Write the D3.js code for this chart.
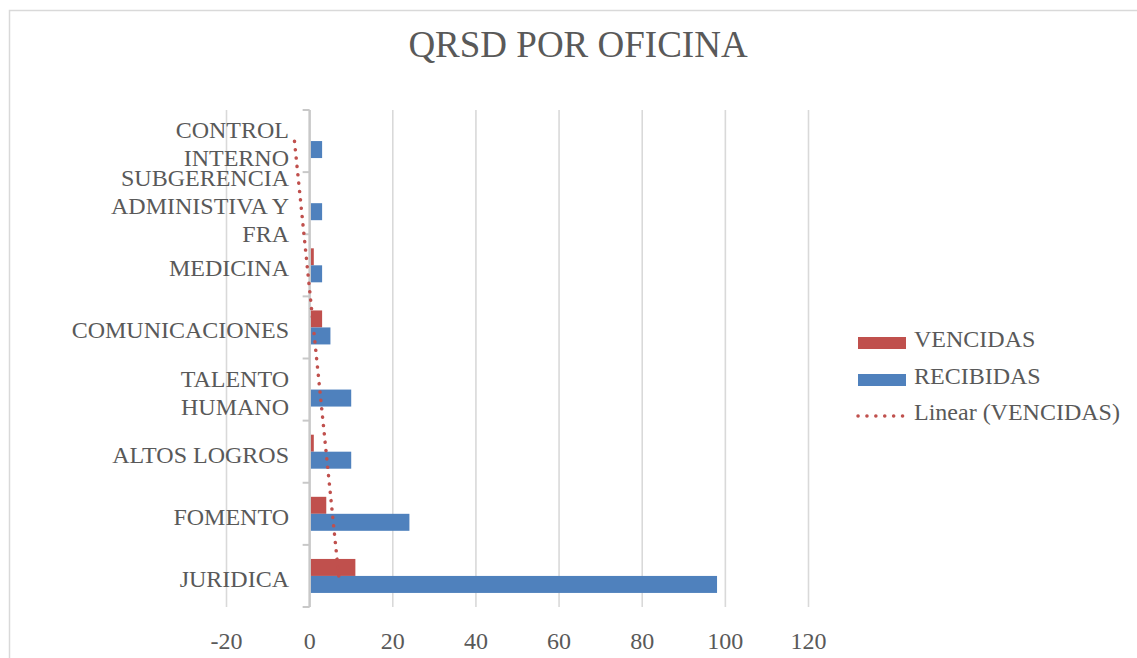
<!DOCTYPE html>
<html>
<head>
<meta charset="utf-8">
<script src="https://cdn.jsdelivr.net/npm/d3@7"></script>
<style>
  html, body { margin: 0; padding: 0; background: #fff; }
  svg { display: block; }
  text { font-family: "Liberation Serif", "Times New Roman", serif; fill: #595959; }
</style>
</head>
<body>
<svg id="chart" width="1137" height="658" font-family="'Liberation Serif', 'Times New Roman', serif"></svg>
<script>
// ---- data (bottom-to-top order as in the source sheet) ----
const categories = ["JURIDICA", "FOMENTO", "ALTOS LOGROS", "TALENTO HUMANO", "COMUNICACIONES", "MEDICINA", "SUBGERENCIA ADMINISTIVA Y FRA", "CONTROL INTERNO"];
const vencidas  = [11, 4, 1, 0, 3, 1, 0, 0];
const recibidas = [98, 24, 10, 10, 5, 3, 3, 3];
// Linear trendline of VENCIDAS at first and last category
const trendVencidas = [7.0, -3.65];
const xTicks = [-20, 0, 20, 40, 60, 80, 100, 120];
const seriesNames = ["VENCIDAS", "RECIBIDAS"];
const trendName = "Linear (VENCIDAS)";
const title = "QRSD POR OFICINA";

const colors = { VENCIDAS: "#C0504D", RECIBIDAS: "#4F81BD" };

(function () {
const svg = d3.select("#chart");
const FONT = 24;

// chart border
svg.append("rect").attr("x", 9.5).attr("y", 10.5).attr("width", 1300).attr("height", 800)
  .attr("fill", "#fff").attr("stroke", "#d9d9d9").attr("stroke-width", 1.5);

// title
svg.append("text").attr("x", 578).attr("y", 57).attr("text-anchor", "middle")
  .style("font-family", "'Liberation Serif', serif")
  .style("font-size", "37px").text(title);

// scales
const x = d3.scaleLinear().domain([-20, 120]).range([226.5, 808.5]);
const plotTop = 110, plotBottom = 607;
const y = d3.scaleBand().domain(categories.slice().reverse()).range([plotTop, plotBottom]).padding(0);
const bw = y.bandwidth();
const barH = 17;
const inner = d3.scaleBand().domain(seriesNames)
  .range([bw / 2 - barH, bw / 2 + barH]).padding(0);

// gridlines
svg.append("g").selectAll("line").data(xTicks.filter(d => d !== 0)).join("line")
  .attr("x1", d => x(d)).attr("x2", d => x(d))
  .attr("y1", plotTop).attr("y2", plotBottom)
  .attr("stroke", "#d9d9d9").attr("stroke-width", 1.6);

// x tick labels
svg.append("g").selectAll("text").data(xTicks).join("text")
  .attr("x", d => x(d)).attr("y", 649).attr("text-anchor", "middle")
  .style("font-size", FONT + "px").text(d => d);

// bars
const rows = categories.map((c, i) => ({ c, VENCIDAS: vencidas[i], RECIBIDAS: recibidas[i] }));
const g = svg.append("g");
seriesNames.forEach(s => {
  g.selectAll("rect." + s).data(rows).join("rect")
    .attr("class", s)
    .attr("x", d => Math.min(x(0), x(d[s])) + 1)
    .attr("width", d => Math.max(0, Math.abs(x(d[s]) - x(0)) - (d[s] > 0 ? 1 : 0)))
    .attr("y", d => y(d.c) + inner(s))
    .attr("height", inner.bandwidth())
    .attr("fill", colors[s]);
});

// y axis line at 0 and ticks
const yAxis = svg.append("g");
yAxis.append("line").attr("x1", x(0)).attr("x2", x(0)).attr("y1", plotTop).attr("y2", plotBottom)
  .attr("stroke", "#c8c8c8").attr("stroke-width", 2.5);
const bounds = d3.range(categories.length + 1).map(i => plotTop + i * bw);
yAxis.selectAll("line.tk").data(bounds).join("line").attr("class", "tk")
  .attr("x1", x(0) - 7).attr("x2", x(0))
  .attr("y1", d => d).attr("y2", d => d)
  .attr("stroke", "#c8c8c8").attr("stroke-width", 2);

// category labels with wrapping
const labelX = 289, maxW = 205, lineH = 28;
categories.forEach(c => {
  const t = svg.append("text").attr("text-anchor", "end").style("font-size", FONT + "px");
  const words = c.split(" ");
  const lines = [];
  let cur = "";
  const probe = svg.append("text").style("font-size", FONT + "px");
  words.forEach(w => {
    const test = cur ? cur + " " + w : w;
    probe.text(test);
    if (cur && probe.node().getComputedTextLength() > maxW) { lines.push(cur); cur = w; }
    else cur = test;
  });
  lines.push(cur);
  probe.remove();
  const cy = y(c) + bw / 2;
  const first = cy + 11 - (lines.length - 1) * lineH / 2;
  lines.forEach((l, i) => {
    t.append("tspan").attr("x", labelX).attr("y", first + i * lineH).text(l);
  });
});

// trendline
const tl = [
  { c: categories[0], v: trendVencidas[0] },
  { c: categories[categories.length - 1], v: trendVencidas[1] }
];
svg.append("path")
  .attr("d", d3.line().x(d => x(d.v)).y(d => y(d.c) + bw / 2)(tl))
  .attr("fill", "none").attr("stroke", colors.VENCIDAS).attr("stroke-width", 3.5)
  .attr("stroke-linecap", "round").attr("stroke-dasharray", "0.1 8.3");

// legend
const lg = svg.append("g");
const legendItems = [
  { name: seriesNames[0], type: "rect", yb: 347 },
  { name: seriesNames[1], type: "rect", yb: 384 },
  { name: trendName, type: "dot", yb: 420 }
];
legendItems.forEach(it => {
  if (it.type === "rect") {
    lg.append("rect").attr("x", 858).attr("y", it.yb - 10).attr("width", 48).attr("height", 12)
      .attr("fill", colors[it.name]);
  } else {
    lg.append("line").attr("x1", 858).attr("x2", 903).attr("y1", it.yb - 4).attr("y2", it.yb - 4)
      .attr("stroke", colors.VENCIDAS).attr("stroke-width", 3.5)
      .attr("stroke-linecap", "round").attr("stroke-dasharray", "0.1 8.8");
  }
  lg.append("text").attr("x", 914).attr("y", it.yb).style("font-size", FONT + "px").text(it.name);
});
})();
</script>
</body>
</html>
